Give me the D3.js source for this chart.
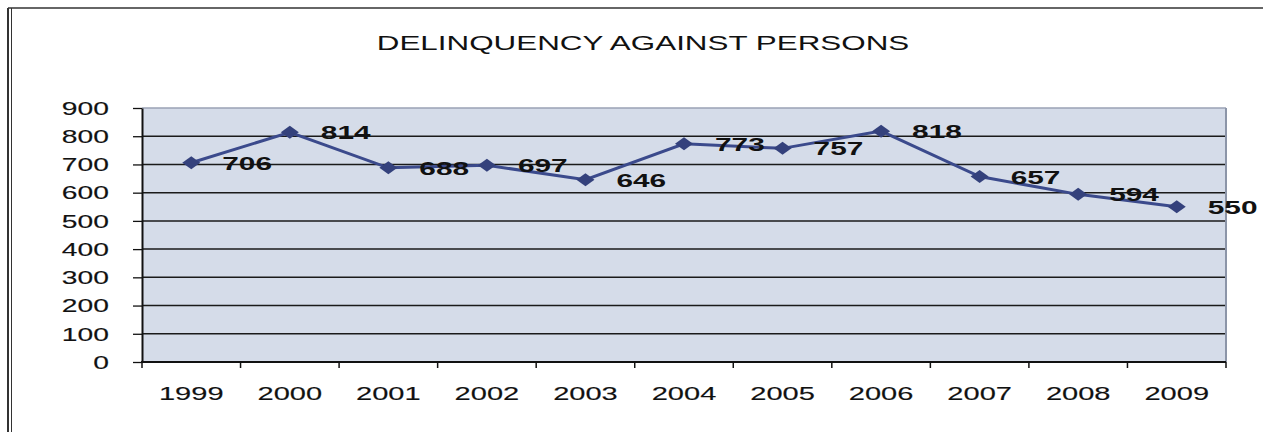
<!DOCTYPE html>
<html>
<head>
<meta charset="utf-8">
<script src="https://cdn.jsdelivr.net/npm/d3@7"></script>
<style>
  html, body { margin: 0; padding: 0; background: #ffffff; }
  svg { display: block; }
  text { font-family: "Liberation Sans", Arial, sans-serif; fill: #111; }
</style>
</head>
<body>
<script>
const title = "DELINQUENCY AGAINST PERSONS";
const years = ["1999","2000","2001","2002","2003","2004","2005","2006","2007","2008","2009"];
const values = [706, 814, 688, 697, 646, 773, 757, 818, 657, 594, 550];
const yTicks = [0, 100, 200, 300, 400, 500, 600, 700, 800, 900];

const W = 1263, H = 432;
const SX = 1.57; // horizontal text stretch seen in the reference
const plot = { left: 142, right: 1226, top: 108, bottom: 362 };

const svg = d3.select("body").append("svg").attr("width", W).attr("height", H);

// outer frame (scanned page border)
svg.append("line").attr("x1", 8).attr("x2", W).attr("y1", 8).attr("y2", 8)
  .attr("stroke", "#333").attr("stroke-width", 1.5);
svg.append("line").attr("x1", 8).attr("x2", 8).attr("y1", 8).attr("y2", H)
  .attr("stroke", "#333").attr("stroke-width", 2);
svg.append("line").attr("x1", 11.5).attr("x2", 11.5).attr("y1", 8).attr("y2", H)
  .attr("stroke", "#333").attr("stroke-width", 1);

const x = d3.scaleBand().domain(years).range([plot.left, plot.right]).padding(0);
const y = d3.scaleLinear().domain([0, 900]).range([plot.bottom, plot.top]);

// plot background
svg.append("rect")
  .attr("x", plot.left).attr("y", plot.top)
  .attr("width", plot.right - plot.left).attr("height", plot.bottom - plot.top)
  .attr("fill", "#d5dce9");

// gridlines
svg.append("g").selectAll("line").data(yTicks.filter(d => d > 0 && d < 900)).join("line")
  .attr("x1", plot.left).attr("x2", plot.right)
  .attr("y1", d => y(d)).attr("y2", d => y(d))
  .attr("stroke", "#1a1a1a").attr("stroke-width", 1.5);

// plot top & right border (gray)
svg.append("line").attr("x1", plot.left).attr("x2", plot.right)
  .attr("y1", y(900)).attr("y2", y(900)).attr("stroke", "#9aa2b4").attr("stroke-width", 1.5);
svg.append("line").attr("x1", plot.right).attr("x2", plot.right)
  .attr("y1", plot.top).attr("y2", plot.bottom).attr("stroke", "#8c95a8").attr("stroke-width", 2);

// y axis
const yAxis = svg.append("g").attr("transform", `translate(${plot.left},0)`)
  .call(d3.axisLeft(y).tickValues(yTicks).tickSize(9).tickSizeOuter(0).tickPadding(0));
yAxis.select(".domain").attr("stroke", "#111").attr("stroke-width", 2);
yAxis.selectAll(".tick line").attr("stroke", "#111").attr("stroke-width", 1.3);
yAxis.selectAll(".tick text")
  .attr("x", -33 / SX).attr("dy", "0.35em")
  .attr("transform", `scale(${SX},1)`)
  .style("font-size", "18px").style("font-family", "'Liberation Sans', Arial, sans-serif")
  .attr("fill", "#1a1a1a").attr("stroke", "#1a1a1a").attr("stroke-width", 0.15)
  .attr("text-anchor", "end");

// x axis line
svg.append("line").attr("x1", plot.left - 1).attr("x2", plot.right)
  .attr("y1", plot.bottom).attr("y2", plot.bottom)
  .attr("stroke", "#111").attr("stroke-width", 2);
// x ticks at category boundaries
const bounds = years.map(d => x(d)).concat([x(years[years.length - 1]) + x.bandwidth()]);
svg.append("g").selectAll("line").data(bounds).join("line")
  .attr("x1", d => d).attr("x2", d => d)
  .attr("y1", plot.bottom).attr("y2", plot.bottom + 6)
  .attr("stroke", "#111").attr("stroke-width", 1.5);
// x labels
svg.append("g").selectAll("text").data(years).join("text")
  .attr("transform", d => `translate(${x(d) + x.bandwidth() / 2},400) scale(${SX},1)`)
  .attr("text-anchor", "middle")
  .style("font-size", "18.5px")
  .attr("fill", "#1a1a1a").attr("stroke", "#1a1a1a").attr("stroke-width", 0.15)
  .text(d => d);

// title
svg.append("text")
  .attr("transform", `translate(643,50) scale(${SX},1)`)
  .attr("text-anchor", "middle")
  .style("font-size", "20px")
  .text(title);

// series line
const pts = years.map((d, i) => ({ year: d, v: values[i] }));
const line = d3.line().x(d => x(d.year) + x.bandwidth() / 2).y(d => y(d.v));
svg.append("path").datum(pts)
  .attr("d", line).attr("fill", "none")
  .attr("stroke", "#3b4a8c").attr("stroke-width", 3);

// diamond markers
const dw = 9, dh = 6.5;
svg.append("g").selectAll("path").data(pts).join("path")
  .attr("transform", d => `translate(${x(d.year) + x.bandwidth() / 2},${y(d.v)})`)
  .attr("d", `M0,${-dh}L${dw},0L0,${dh}L${-dw},0Z`)
  .attr("fill", "#34417c");

// data labels
svg.append("g").selectAll("text").data(pts).join("text")
  .attr("transform", d => `translate(${x(d.year) + x.bandwidth() / 2 + 31},${y(d.v) + 7}) scale(${SX},1)`)
  .attr("text-anchor", "start")
  .style("font-size", "19px").style("font-weight", "bold")
  .text(d => d.v);
</script>
</body>
</html>
